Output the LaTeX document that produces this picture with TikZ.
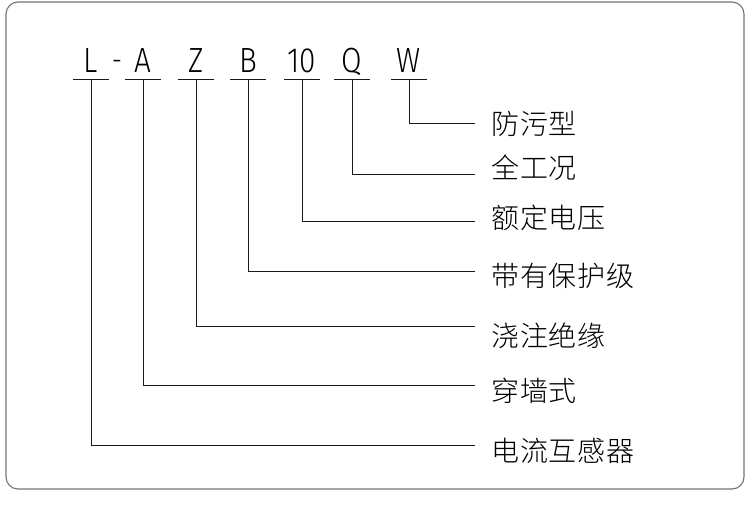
\documentclass[tikz,border=0pt]{standalone}
\usepackage{fontspec}
\setmainfont{Fira Sans Light}[FakeStretch=0.85]
\newfontfamily\cjk[LetterSpace=3]{Noto Sans CJK SC Light}
\usetikzlibrary{positioning}

\tikzset{
  code/.style={inner sep=0pt, minimum width=35pt, text depth=7pt, anchor=base,
    font=\fontsize{35}{42}\selectfont},
  meaning/.style={inner sep=0pt, anchor=west, font=\cjk\fontsize{28}{33}\selectfont},
  wire/.style={line width=1pt, black!90}
}

\begin{document}
\begin{tikzpicture}[x=1pt,y=-1pt]
\useasboundingbox (0,0) rectangle (750,504);
\draw[rounded corners=12pt, black!55, line width=1.1pt] (6,2) rectangle (744,489);

\def\yb{72};
\def\xe{475};
\def\xt{491};

% letters of the type code
\node[code](L) at (91, \yb) {L};
\node[code](A) at (143, \yb) {A};
\node[code](Z) at (196, \yb) {Z};
\node[code](B) at (248, \yb) {B};
\node[code](V) at (302, \yb) {10};
\node[code](Q) at (352, \yb) {Q};
\node[code](W) at (409, \yb) {W};
\node[inner sep=0pt, anchor=base, font=\fontsize{30}{36}\selectfont](dash) at (117, 70) {-};

\foreach \n in {L,A,Z,B,V,Q,W}
  \draw[wire] (\n.south west) -- (\n.south east);

% ends of the lines
\coordinate(eW) at (\xe, 123);
\coordinate(eQ) at (\xe, 174);
\coordinate(eV) at (\xe, 221);
\coordinate(eB) at (\xe, 271);
\coordinate(eZ) at (\xe, 326);
\coordinate(eA) at (\xe, 385);
\coordinate(eL) at (\xe, 445);

% meanings
\node[meaning](tW) at (\xt, 124) {防污型};
\node[meaning](tQ) at (\xt, 168) {全工况};
\node[meaning](tV) at (\xt, 218) {额定电压};
\node[meaning](tB) at (\xt, 276) {带有保护级};
\node[meaning](tZ) at (\xt, 336) {浇注绝缘};
\node[meaning](tA) at (\xt, 391) {穿墙式};
\node[meaning](tL) at (\xt, 451) {电流互感器};

\foreach \n in {L,A,Z,B,V,Q,W}
  \draw[wire] (\n.south) |- (e\n);

\end{tikzpicture}
\end{document}
